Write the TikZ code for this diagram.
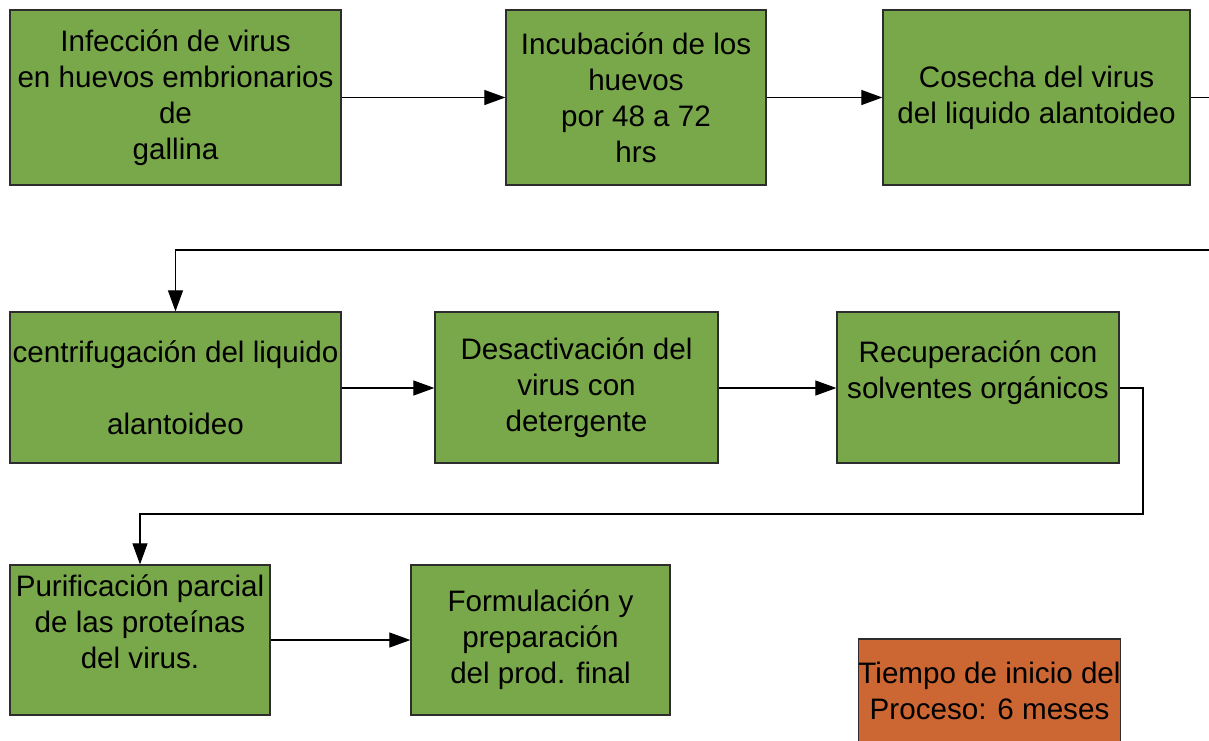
\documentclass[tikz,border=0pt]{standalone}
\usepackage{fontspec}
\setmainfont{Liberation Sans}
\usetikzlibrary{arrows.meta}
\definecolor{boxgreen}{RGB}{121,168,74}
\definecolor{boxorange}{RGB}{204,102,51}
\definecolor{edgegray}{RGB}{45,45,45}
\tikzset{
  stepbox/.style={draw=edgegray, line width=1.3pt, fill=boxgreen, inner sep=0pt, align=center,
    font=\fontsize{29.6}{36}\selectfont},
  timebox/.style={stepbox, fill=boxorange},
  conn/.style={draw=black, line width=1.2pt, -{Triangle[length=21pt,width=15pt]}},
}
\begin{document}
\begin{tikzpicture}[x=1pt,y=-1pt]
\useasboundingbox (0,0) rectangle (1209,740);
\clip (0,0) rectangle (1209,740);
\fill[white] (0,0) rectangle (1209,740);
% row 1
\node[stepbox, minimum width=331pt, minimum height=175pt] (b1) at (175.5,97.5)
  {Infección de virus\\ en huevos embrionarios\\de\\gallina};
\node[stepbox, minimum width=260pt, minimum height=175pt] (b2) at (636,97.5)
  {Incubación de los\\huevos\\por 48 a 72\\hrs};
\node[stepbox, minimum width=307pt, minimum height=175pt] (b3) at (1036.5,97.5)
  {Cosecha del virus\\del liquido alantoideo};
% row 2
\node[stepbox, minimum width=331pt, minimum height=151pt] (b4) at (175.5,387.5)
  {centrifugación del liquido\\\mbox{}\\alantoideo};
\node[stepbox, minimum width=283pt, minimum height=151pt] (b5) at (576.5,387.5)
  {Desactivación del\\virus con\\detergente};
\node[stepbox, minimum width=282pt, minimum height=151pt] (b6) at (978,387.5)
  {Recuperación con\\solventes orgánicos\\\mbox{}};
% row 3
\node[stepbox, minimum width=260pt, minimum height=150pt] (b7) at (140,640)
  {Purificación parcial\\de las proteínas\\del virus.\\\mbox{}};
\node[stepbox, minimum width=259pt, minimum height=150pt] (b8) at (540.5,640)
  {Formulación y\\preparación\\del prod. final};
\node[timebox, minimum width=259pt, minimum height=104pt] (t) at (989.5,691)
  {Tiempo de inicio del\\Proceso: 6 meses};
% connectors
\coordinate (r1) at (1240,97.5);
\coordinate (r2) at (1240,250);
\coordinate (s1) at (1143,388);
\coordinate (s2) at (1143,514);
\draw[conn] (b1.east) -- (b2.west);
\draw[conn] (b2.east) -- (b3.west);
\draw[conn] (b3.east) -- (r1) -- (r2) -| (b4.north);
\draw[conn] (b4.east |- s1) -- (b5.west |- s1);
\draw[conn] (b5.east |- s1) -- (b6.west |- s1);
\draw[conn] (b6.east |- s1) -- (s1) -- (s2) -| (b7.north);
\draw[conn] (b7.east) -- (b8.west);
\end{tikzpicture}
\end{document}
